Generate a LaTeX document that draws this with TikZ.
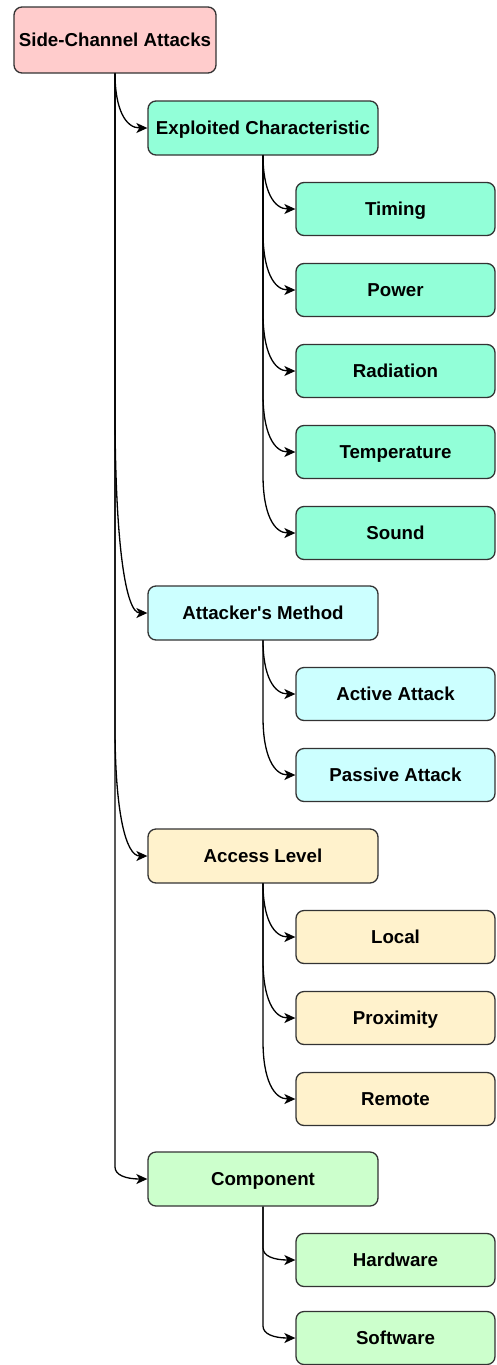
\documentclass[tikz,border=0pt]{standalone}
\usepackage{fontspec}
\setmainfont{Liberation Sans}[Ligatures=TeXOff]
\usetikzlibrary{calc,arrows.meta}
\definecolor{strk}{HTML}{333333}
\definecolor{cRoot}{HTML}{FFCCCC}
\definecolor{cMint}{HTML}{92FFD8}
\definecolor{cCyan}{HTML}{CCFFFF}
\definecolor{cSand}{HTML}{FFF2CC}
\definecolor{cLime}{HTML}{CCFFCC}
\newcommand{\myconn}[3]{%
  \path (#1.south |- #2.west) coordinate (q) ($(q)+(0,-#3)$) coordinate (s);
  \draw[edge] (#1.south) -- (s) .. controls ($(s)!0.6667!(q)$) and ($(#2.west)!0.6667!(q)$) .. (#2.west);}
\begin{document}
\begin{tikzpicture}[x=1pt,y=-1pt,
  box/.style={draw=strk, line width=1.3pt, rounded corners=8pt, align=center,
    font=\fontsize{18.7}{22}\selectfont\bfseries, inner sep=0pt,
    text height=13.3pt, text depth=0pt},
  rootbox/.style={box, fill=cRoot, minimum width=202pt, minimum height=66pt},
  midbox/.style={box, minimum width=230pt, minimum height=54pt},
  leafbox/.style={box, minimum width=199pt, minimum height=53pt},
  edge/.style={draw=black, line width=1.3pt, -{Stealth[length=11pt,width=10pt,inset=3pt]}}]
\useasboundingbox (0,0) rectangle (496,1365);
\node[rootbox] (root) at (115,40) {Side-Channel Attacks};
% level 1
\node[midbox, fill=cMint] (ex) at (263,128) {Exploited Characteristic};
\node[midbox, fill=cCyan] (am) at (263,613) {Attacker's Method};
\node[midbox, fill=cSand] (al) at (263,856) {Access Level};
\node[midbox, fill=cLime] (co) at (263,1179) {Component};
% level 2
\node[leafbox, fill=cMint] (ti) at (395.5,209) {Timing};
\node[leafbox, fill=cMint] (po) at (395.5,290) {Power};
\node[leafbox, fill=cMint] (ra) at (395.5,371) {Radiation};
\node[leafbox, fill=cMint] (te) at (395.5,452) {Temperature};
\node[leafbox, fill=cMint] (so) at (395.5,533) {Sound};
\node[leafbox, fill=cCyan] (aa) at (395.5,694) {Active Attack};
\node[leafbox, fill=cCyan] (pa) at (395.5,775) {Passive Attack};
\node[leafbox, fill=cSand] (lo) at (395.5,937) {Local};
\node[leafbox, fill=cSand] (pr) at (395.5,1018) {Proximity};
\node[leafbox, fill=cSand] (re) at (395.5,1099) {Remote};
\node[leafbox, fill=cLime] (hw) at (395.5,1260) {Hardware};
\node[leafbox, fill=cLime] (sw) at (395.5,1338) {Software};
% connectors
\myconn{root}{ex}{55}
\myconn{root}{am}{205}
\myconn{root}{al}{130}
\myconn{root}{co}{12}
\myconn{ex}{ti}{54}
\myconn{ex}{po}{58}
\myconn{ex}{ra}{58}
\myconn{ex}{te}{58}
\myconn{ex}{so}{58}
\myconn{am}{aa}{54}
\myconn{am}{pa}{58}
\myconn{al}{lo}{54}
\myconn{al}{pr}{58}
\myconn{al}{re}{58}
\myconn{co}{hw}{12}
\myconn{co}{sw}{12}
\end{tikzpicture}
\end{document}
